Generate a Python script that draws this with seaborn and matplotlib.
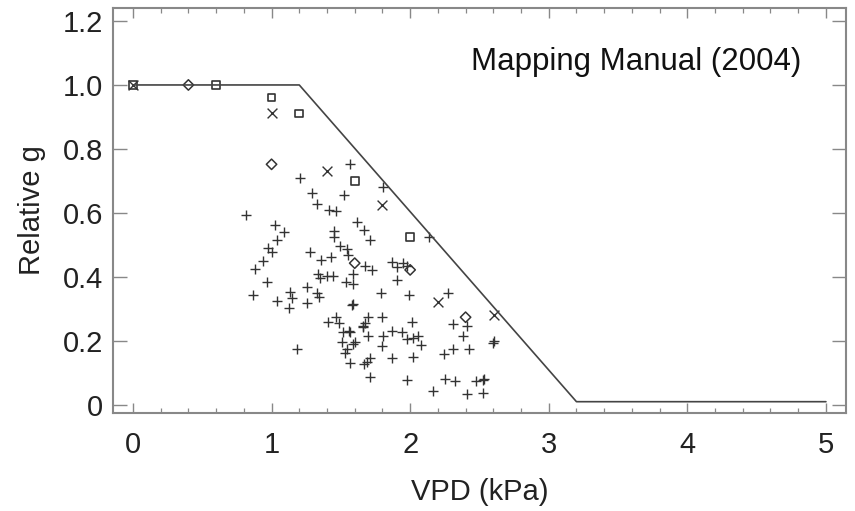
import matplotlib
matplotlib.use("Agg")
import matplotlib.pyplot as plt
import seaborn as sns
import pandas as pd
from matplotlib.ticker import MultipleLocator

# ---- data ----
model_x = [0.0, 1.2, 3.2, 5.0]
model_y = [1.0, 1.0, 0.01, 0.01]

plus_x = [1.566, 1.205, 1.806, 1.289, 1.522, 1.325, 1.417, 1.465, 0.813, 1.618,
          1.027, 1.667, 1.452, 1.092, 1.452, 1.712, 1.037, 1.494, 0.972, 1.542,
          1.000, 1.277, 1.553, 1.429, 1.359, 0.936, 1.676, 1.722, 1.866, 1.946,
          1.902, 1.975, 0.883, 1.337, 1.349, 1.398, 1.446, 1.537, 1.589, 1.589,
          1.907, 0.965, 1.787, 1.994, 0.864, 1.258, 1.133, 1.325, 1.345, 1.145,
          1.037, 1.258, 1.128, 1.578, 1.585, 1.799, 1.698, 1.465, 2.010, 1.409,
          1.488, 1.674, 1.657, 1.662, 1.560, 1.566, 1.517, 1.698, 1.806, 1.871,
          1.938, 1.975, 2.023, 2.059, 1.506, 1.589, 1.602, 1.799, 1.542, 1.530,
          1.181, 1.710, 1.871, 2.018, 1.566, 1.669, 1.686, 1.710, 1.975, 2.138,
          2.275, 2.307, 2.408, 2.076, 2.380, 2.605, 2.595, 2.244, 2.311, 2.424,
          2.251, 2.323, 2.475, 2.527, 2.532, 2.162, 2.408, 2.523]
plus_y = [0.752, 0.709, 0.682, 0.661, 0.655, 0.627, 0.609, 0.606, 0.593, 0.572,
          0.562, 0.547, 0.545, 0.540, 0.526, 0.516, 0.516, 0.497, 0.490, 0.487,
          0.479, 0.478, 0.469, 0.461, 0.452, 0.449, 0.434, 0.422, 0.448, 0.443,
          0.432, 0.434, 0.426, 0.409, 0.396, 0.404, 0.404, 0.384, 0.378, 0.409,
          0.391, 0.385, 0.349, 0.343, 0.342, 0.370, 0.354, 0.351, 0.338, 0.335,
          0.325, 0.318, 0.304, 0.312, 0.316, 0.276, 0.274, 0.276, 0.260, 0.258,
          0.257, 0.255, 0.245, 0.248, 0.231, 0.229, 0.229, 0.216, 0.216, 0.231,
          0.229, 0.205, 0.208, 0.216, 0.198, 0.191, 0.198, 0.184, 0.174, 0.161,
          0.174, 0.145, 0.145, 0.151, 0.130, 0.127, 0.135, 0.088, 0.078, 0.524,
          0.349, 0.253, 0.248, 0.188, 0.216, 0.201, 0.193, 0.158, 0.174, 0.174,
          0.080, 0.076, 0.076, 0.078, 0.080, 0.042, 0.033, 0.038]

cross_x = [0.0, 1.0, 1.402, 1.799, 2.203, 2.605]
cross_y = [1.0, 0.911, 0.732, 0.624, 0.323, 0.281]

square_x = [0.0, 0.6, 1.0, 1.2, 1.6, 2.0]
square_y = [1.0, 1.0, 0.961, 0.911, 0.701, 0.524]

diamond_x = [0.4, 1.0, 1.6, 2.0, 2.4]
diamond_y = [1.0, 0.752, 0.443, 0.422, 0.274]

x_ticks = [0, 1, 2, 3, 4, 5]
y_ticks = [0, 0.2, 0.4, 0.6, 0.8, 1.0, 1.2]
y_ticklabels = ["0", "0.2", "0.4", "0.6", "0.8", "1.0", "1.2"]

# ---- style ----
sns.set_theme(style="white")
plt.rcParams["font.family"] = ["Liberation Sans", "DejaVu Sans"]

fig = plt.figure(figsize=(8.55, 5.11), dpi=100)
ax = fig.add_axes([0.132, 0.192, 0.8575, 0.792])

mark_col = "#333333"
line_df = pd.DataFrame({"x": model_x, "y": model_y})
sns.lineplot(data=line_df, x="x", y="y", ax=ax, color="#444444", lw=1.2,
             sort=False, estimator=None)

plus_df = pd.DataFrame({"x": plus_x, "y": plus_y})
sns.scatterplot(data=plus_df, x="x", y="y", ax=ax, marker="+", s=60,
                color=mark_col, linewidth=1.0, legend=False)
cross_df = pd.DataFrame({"x": cross_x, "y": cross_y})
sns.scatterplot(data=cross_df, x="x", y="y", ax=ax, marker="x", s=50,
                color=mark_col, linewidth=1.0, legend=False)
sq_df = pd.DataFrame({"x": square_x, "y": square_y})
sns.scatterplot(data=sq_df, x="x", y="y", ax=ax, marker="s", s=32,
                facecolor="none", edgecolor=mark_col, linewidth=1.2, legend=False)
di_df = pd.DataFrame({"x": diamond_x, "y": diamond_y})
sns.scatterplot(data=di_df, x="x", y="y", ax=ax, marker="D", s=28,
                facecolor="none", edgecolor=mark_col, linewidth=1.1, legend=False)

ax.set_xlim(-0.145, 5.145)
ax.set_ylim(-0.025, 1.24)
ax.set_xticks(x_ticks)
ax.set_xticklabels([str(v) for v in x_ticks])
ax.set_yticks(y_ticks)
ax.set_yticklabels(y_ticklabels)
ax.xaxis.set_minor_locator(MultipleLocator(0.2))

for sp in ax.spines.values():
    sp.set_color("#888888")
    sp.set_linewidth(1.5)
    sp.set_visible(True)

ax.tick_params(axis="x", which="major", direction="in", length=7, width=1.0,
               color="#888888", top=True, bottom=True, labelsize=21,
               labelcolor="#222222", pad=13)
ax.tick_params(axis="x", which="minor", direction="in", length=3.6, width=0.9,
               color="#888888", top=True, bottom=True)
ax.tick_params(axis="y", which="major", direction="in", length=10, width=1.0,
               color="#888888", left=True, right=True, labelsize=21,
               labelcolor="#222222", pad=7)

ax.set_xlabel("VPD (kPa)", fontsize=21, color="#222222", labelpad=14)
ax.set_ylabel("Relative g", fontsize=21, color="#222222", labelpad=12)

ax.text(2.44, 1.047, "Mapping Manual (2004)", fontsize=22.5, color="#111111",
        ha="left", va="baseline")

fig.savefig("out.png", dpi=100)
